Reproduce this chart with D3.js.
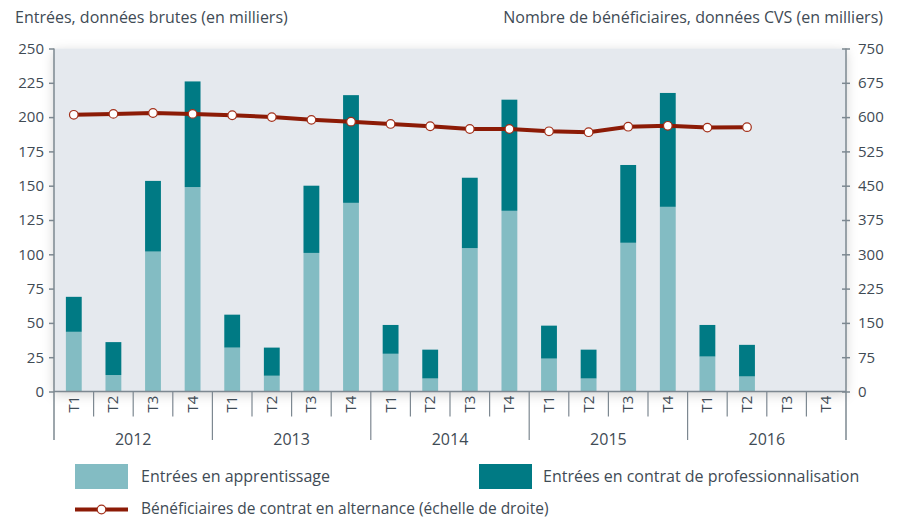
<!DOCTYPE html>
<html>
<head>
<meta charset="utf-8">
<script src="https://cdn.jsdelivr.net/npm/d3@7"></script>
<style>
  body { margin: 0; background: #fff; }
  svg { font-family: "Open Sans", sans-serif; }
</style>
</head>
<body>
<figure style="margin:0"></figure>
<script>
const width = 898
const height = 519

// Data (en milliers)
const years = ['2012', '2013', '2014', '2015', '2016']
const quarters = ['T1', 'T2', 'T3', 'T4']
const apprentissage = [43.5, 12, 102, 149, 32, 11.5, 101, 137.5, 27.5, 9.5, 104.5, 131.7, 24, 9.5, 108.4, 134.6, 25.5, 11, null, null]
const professionnalisation = [25.5, 24, 51.5, 77, 24, 20.5, 49, 78.5, 21, 21, 51.3, 81, 24, 21, 56.7, 83, 23, 23, null, null]
const beneficiaires = [605, 607, 609, 607, 604, 600, 594, 590, 585, 580, 574, 574, 569, 567, 579, 581, 577, 578, null, null]
const leftTicks = [0, 25, 50, 75, 100, 125, 150, 175, 200, 225, 250]
const rightTicks = [0, 75, 150, 225, 300, 375, 450, 525, 600, 675, 750]

const cats = []
years.forEach(y => quarters.forEach(q => cats.push(y + '-' + q)))

const plot = { left: 54, right: 846, top: 48.5, bottom: 391.5 }
const textColor = '#3f4b55'
const axisColor = '#7d8891'

const svg = d3.select('figure').append('svg')
  .attr('width', width)
  .attr('height', height)

// soft shadow around the plot area
const defs = svg.append('defs')
const filter = defs.append('filter').attr('id', 'shadow')
  .attr('x', '-10%').attr('y', '-10%').attr('width', '120%').attr('height', '125%')
filter.append('feDropShadow')
  .attr('dx', 0).attr('dy', 3).attr('stdDeviation', 6)
  .attr('flood-color', '#000').attr('flood-opacity', 0.18)

// Scales
const x = d3.scaleBand().domain(cats)
  .range([plot.left, plot.right])
  .paddingInner(0.6).paddingOuter(0.3)
const yLeft = d3.scaleLinear().domain([0, 250]).range([plot.bottom, plot.top])
const yRight = d3.scaleLinear().domain([0, 750]).range([plot.bottom, plot.top])

svg.append('rect')
  .attr('x', plot.left).attr('y', plot.top)
  .attr('width', plot.right - plot.left)
  .attr('height', plot.bottom - plot.top)
  .attr('fill', '#e5e9ee')
  .attr('filter', 'url(#shadow)')

// Titles
svg.append('text').attr('x', 15).attr('y', 23)
  .attr('fill', textColor).style('font-size', '16px')
  .text('Entrées, données brutes (en milliers)')
svg.append('text').attr('x', 883).attr('y', 23)
  .attr('text-anchor', 'end')
  .attr('fill', textColor).style('font-size', '16px')
  .text('Nombre de bénéficiaires, données CVS (en milliers)')

// Bars
const stacked = cats.map((c, i) => ({
  cat: c,
  a: apprentissage[i],
  p: professionnalisation[i]
}))

svg.append('g').selectAll('rect')
  .data(stacked.filter(d => d.a != null))
  .join('rect')
    .attr('x', d => x(d.cat))
    .attr('width', x.bandwidth())
    .attr('y', d => yLeft(d.a))
    .attr('height', d => yLeft(0) - yLeft(d.a))
    .attr('fill', '#83bcc3')

svg.append('g').selectAll('rect')
  .data(stacked.filter(d => d.p != null))
  .join('rect')
    .attr('x', d => x(d.cat))
    .attr('width', x.bandwidth())
    .attr('y', d => yLeft(d.a + d.p))
    .attr('height', d => yLeft(d.a) - yLeft(d.a + d.p))
    .attr('fill', '#007a84')

// Left axis
const axL = svg.append('g')
  .attr('transform', `translate(${plot.left},0)`)
  .call(d3.axisLeft(yLeft).tickValues(leftTicks).tickSize(5).tickPadding(5))
axL.select('.domain').remove()
axL.selectAll('line').attr('stroke', axisColor).attr('stroke-width', 1.5)
axL.selectAll('text').attr('fill', textColor).style('font-size', '15px')
  .style('font-family', '"Open Sans", sans-serif')

// Right axis
const axR = svg.append('g')
  .attr('transform', `translate(${plot.right},0)`)
  .call(d3.axisRight(yRight).tickValues(rightTicks).tickSize(4).tickPadding(8))
axR.select('.domain').remove()
axR.selectAll('line').attr('x1', -4).attr('stroke', axisColor).attr('stroke-width', 1.5)
axR.selectAll('text').attr('fill', textColor).style('font-size', '15px')
  .style('font-family', '"Open Sans", sans-serif')

// Vertical axis lines (extend down to the year row)
svg.append('line')
  .attr('x1', plot.left).attr('x2', plot.left)
  .attr('y1', plot.top).attr('y2', 440)
  .attr('stroke', axisColor).attr('stroke-width', 1.5)
svg.append('line')
  .attr('x1', plot.right).attr('x2', plot.right)
  .attr('y1', plot.top).attr('y2', 440)
  .attr('stroke', axisColor).attr('stroke-width', 1.5)

// Bottom axis line
svg.append('line')
  .attr('x1', plot.left).attr('x2', plot.right)
  .attr('y1', plot.bottom).attr('y2', plot.bottom)
  .attr('stroke', axisColor).attr('stroke-width', 1.5)

// Quarter separators and labels
const step = x.step()
svg.append('g').selectAll('line')
  .data(cats.slice(1))
  .join('line')
    .attr('x1', d => x(d) + x.bandwidth() / 2 - step / 2)
    .attr('x2', d => x(d) + x.bandwidth() / 2 - step / 2)
    .attr('y1', plot.bottom)
    .attr('y2', (d, i) => ((i + 1) % 4 === 0 ? 440 : 416.5))
    .attr('stroke', axisColor).attr('stroke-width', 1.2)

svg.append('g').selectAll('text')
  .data(cats)
  .join('text')
    .attr('transform', d => `translate(${x(d) + x.bandwidth() / 2 + 5},404) rotate(-90)`)
    .attr('text-anchor', 'middle')
    .attr('fill', textColor)
    .style('font-size', '15px')
    .text(d => d.split('-')[1])

// Year labels
svg.append('g').selectAll('text')
  .data(years)
  .join('text')
    .attr('x', (d, i) => {
      const first = x(d + '-T1'), last = x(d + '-T4')
      return (first + last + x.bandwidth()) / 2
    })
    .attr('y', 445)
    .attr('text-anchor', 'middle')
    .attr('fill', textColor)
    .style('font-size', '16px')
    .text(d => d)

// Line (right scale)
const pts = cats.map((c, i) => ({ cat: c, v: beneficiaires[i] })).filter(d => d.v != null)
const line = d3.line()
  .x(d => x(d.cat) + x.bandwidth() / 2)
  .y(d => yRight(d.v))

svg.append('path')
  .datum(pts)
  .attr('d', line)
  .attr('fill', 'none')
  .attr('stroke', '#8c1b06')
  .attr('stroke-width', 4)

svg.append('g').selectAll('circle')
  .data(pts)
  .join('circle')
    .attr('cx', d => x(d.cat) + x.bandwidth() / 2)
    .attr('cy', d => yRight(d.v))
    .attr('r', 4.3)
    .attr('fill', '#fff')
    .attr('stroke', '#a3301a')
    .attr('stroke-width', 1.2)

// Legend
const legend = svg.append('g')
legend.append('rect').attr('x', 75).attr('y', 464).attr('width', 53).attr('height', 25).attr('fill', '#83bcc3')
legend.append('text').attr('x', 141).attr('y', 482)
  .attr('fill', textColor).style('font-size', '16px')
  .text('Entrées en apprentissage')
legend.append('rect').attr('x', 479).attr('y', 464).attr('width', 53).attr('height', 25).attr('fill', '#007a84')
legend.append('text').attr('x', 543).attr('y', 482)
  .attr('fill', textColor).style('font-size', '16px')
  .text('Entrées en contrat de professionnalisation')
legend.append('line').attr('x1', 75).attr('x2', 128).attr('y1', 509.5).attr('y2', 509.5)
  .attr('stroke', '#8c1b06').attr('stroke-width', 4)
legend.append('circle').attr('cx', 101.5).attr('cy', 509.5).attr('r', 4.3)
  .attr('fill', '#fff').attr('stroke', '#a3301a').attr('stroke-width', 1.2)
legend.append('text').attr('x', 141).attr('y', 514)
  .attr('fill', textColor).style('font-size', '15.5px')
  .text('Bénéficiaires de contrat en alternance (échelle de droite)')
</script>
</body>
</html>
